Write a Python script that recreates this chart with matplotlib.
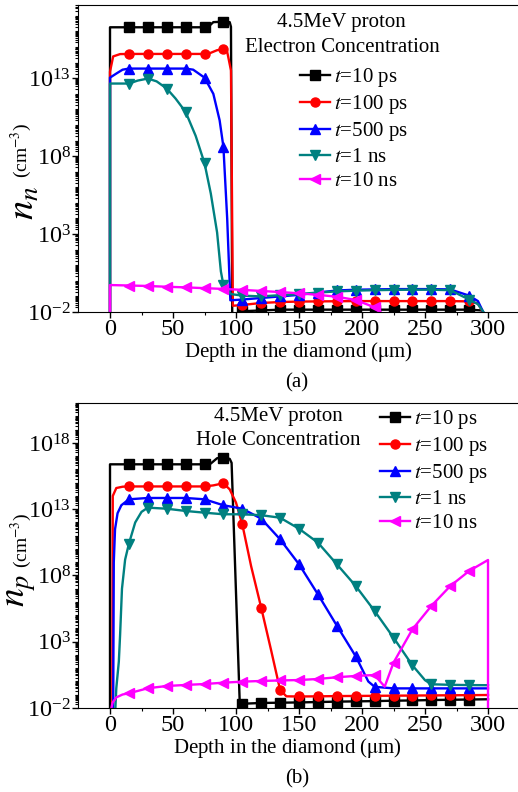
import matplotlib
matplotlib.use("Agg")
import matplotlib.pyplot as plt
from matplotlib.ticker import FixedLocator, LogLocator, NullFormatter, FuncFormatter
import numpy as np

plt.rcParams["font.family"] = ["Liberation Serif", "DejaVu Serif"]
plt.rcParams["mathtext.fontset"] = "stix"

W, H = 518, 792

labels = [r"$t$=10 ps", r"$t$=100 ps", r"$t$=500 ps", r"$t$=1 ns", r"$t$=10 ns"]
colors = ["#000000", "#ff0000", "#0000ff", "#008080", "#ff00ff"]
markers = ["s", "o", "^", "v", "<"]

# (a) electron concentration, log10(n) vs depth (um)
a_x = [
    [0, 0, 15, 30, 45, 60, 75, 78, 82, 90, 95, 96, 97, 105, 120, 135, 150, 165, 180, 195, 210, 225, 240, 255, 270, 285, 295, 298],
    [0, 0, 2.5, 8, 15, 30, 45, 60, 75, 79, 85, 90, 93, 96, 97.5, 105, 120, 135, 150, 165, 180, 195, 210, 225, 240, 255, 270, 285, 292, 298],
    [0, 0, 5, 10, 15, 30, 45, 60, 66, 75, 82, 87, 90, 93, 95.5, 105, 120, 135, 150, 165, 180, 195, 210, 225, 240, 255, 270, 285, 292, 298],
    [0, 0, 15, 22, 30, 37, 45, 52, 60, 68, 75, 80, 85, 88, 90, 93, 96, 105, 120, 135, 150, 165, 180, 195, 210, 225, 240, 255, 270, 285, 292, 299],
    [0, 0, 15, 30, 45, 60, 75, 90, 105, 120, 135, 150, 165, 180, 195, 210, 216],
]
a_y = [
    [-3, 16.27, 16.27, 16.27, 16.27, 16.27, 16.27, 16.3, 16.6, 16.63, 16.6, 16.3, -2.2, -1.95, -1.9, -1.85, -1.85, -1.85, -1.85, -1.85, -1.85, -1.85, -1.85, -1.85, -1.85, -1.85, -1.9, -2.5],
    [-3, 13.42, 14.4, 14.55, 14.56, 14.56, 14.56, 14.56, 14.56, 14.6, 14.8, 14.86, 14.7, 13.5, -1.6, -1.55, -1.42, -1.36, -1.33, -1.32, -1.31, -1.3, -1.3, -1.3, -1.3, -1.3, -1.3, -1.32, -1.45, -2.3],
    [-3, 13.04, 13.3, 13.55, 13.62, 13.62, 13.62, 13.62, 13.55, 13.04, 12.0, 10.3, 8.6, 4.0, -1.25, -1.2, -1.1, -1.0, -0.9, -0.75, -0.62, -0.57, -0.55, -0.53, -0.53, -0.53, -0.55, -0.95, -1.3, -2.3],
    [-3, 12.66, 12.66, 12.85, 12.98, 12.8, 12.34, 11.7, 10.84, 9.3, 7.55, 5.6, 3.1, 0.6, -0.27, -0.55, -0.85, -0.95, -1.0, -0.92, -0.85, -0.75, -0.68, -0.63, -0.6, -0.58, -0.57, -0.57, -0.6, -1.2, -1.5, -2.3],
    [-3, -0.27, -0.3, -0.33, -0.38, -0.42, -0.47, -0.52, -0.58, -0.65, -0.72, -0.8, -0.9, -1.02, -1.23, -1.7, -2.1],
]

# (b) hole concentration, log10(p) vs depth (um)
b_x = [
    [0, 0, 15, 30, 45, 60, 75, 80, 85, 90, 95, 96.5, 103, 105, 120, 135, 150, 165, 180, 195, 210, 225, 240, 255, 270, 285, 300],
    [0, 1.8, 2.2, 5, 10, 15, 30, 45, 60, 75, 82, 90, 95, 100, 105, 112, 120, 128, 135, 140, 150, 165, 180, 195, 210, 225, 240, 255, 270, 285, 300],
    [0, 2.5, 3, 4, 6, 9, 15, 30, 45, 60, 75, 90, 105, 120, 135, 150, 165, 180, 195, 205, 210, 225, 240, 255, 270, 285, 300],
    [0, 3.8, 5, 7, 8, 9.5, 12, 15, 20, 25, 30, 45, 60, 75, 90, 105, 120, 135, 150, 165, 180, 195, 210, 225, 240, 250, 255, 270, 285, 300],
    [0, 2, 5, 10, 15, 30, 45, 60, 75, 90, 105, 120, 135, 150, 165, 180, 195, 210, 218, 225, 240, 255, 270, 285, 300, 300],
]
b_y = [
    [-3, 16.39, 16.39, 16.39, 16.39, 16.39, 16.39, 16.45, 16.85, 16.89, 16.8, 16.5, -1.72, -1.68, -1.62, -1.6, -1.58, -1.55, -1.52, -1.5, -1.48, -1.45, -1.43, -1.4, -1.38, -1.36, -1.34],
    [-3, -3, 14.0, 14.6, 14.7, 14.72, 14.72, 14.72, 14.72, 14.72, 14.8, 14.96, 14.5, 13.5, 11.86, 8.7, 5.57, 2.3, -0.64, -1.12, -1.13, -1.12, -1.1, -1.09, -1.08, -1.07, -1.06, -1.05, -1.04, -1.03, -1.02],
    [-3, -3, 9.0, 11.5, 12.7, 13.3, 13.75, 13.85, 13.85, 13.85, 13.75, 13.3, 13.04, 12.29, 10.73, 8.85, 6.58, 4.22, 1.9, 0.0, -0.4, -0.52, -0.52, -0.52, -0.52, -0.52, -0.52],
    [-3, -3, -0.5, 1.5, 3.5, 7.0, 9.2, 10.4, 12.0, 12.8, 13.12, 13.04, 12.87, 12.74, 12.62, 12.62, 12.55, 12.36, 11.53, 10.48, 8.85, 7.21, 5.32, 3.31, 1.22, 0.1, -0.21, -0.25, -0.27, -0.28],
    [-2.5, -1.6, -1.2, -0.98, -0.89, -0.51, -0.34, -0.26, -0.19, -0.09, -0.01, 0.04, 0.08, 0.11, 0.19, 0.32, 0.42, 0.49, -0.39, 1.42, 3.94, 5.7, 7.2, 8.34, 9.17, -3],
]


def px(x, y):
    return x / W, 1 - y / H


def sci(v, pos):
    e = int(round(np.log10(v)))
    return r"$\mathdefault{10^{%d}}$" % e


def panel(ax, xs, ys, top, note, legend_xy, note_xy):
    fig = ax.figure
    for x, y, c, m, lab in zip(xs, ys, colors, markers, labels):
        x = np.array(x, dtype=float)
        every = [i for i, v in enumerate(x) if v % 15 == 0 and 0 < v < 300]
        ax.plot(x, 10.0 ** np.array(y), color=c, lw=1.7, marker=m, ms=6.5,
                markevery=every, label=lab)
    ax.set_yscale("log")
    ax.set_xlim(-25.4, 323.8)
    ax.set_ylim(1e-2, 10 ** top)
    ax.yaxis.set_major_locator(FixedLocator([10.0 ** e for e in range(-2, 22, 5)]))
    ax.yaxis.set_major_formatter(FuncFormatter(sci))
    ax.yaxis.set_minor_locator(LogLocator(base=10, subs=np.arange(1, 10), numticks=100))
    ax.yaxis.set_minor_formatter(NullFormatter())
    ax.set_xticks([0, 50, 100, 150, 200, 250, 300])
    ax.set_xticks([25, 75, 125, 175, 225, 275], minor=True)
    ax.tick_params(which="both", direction="out", labelsize=17.5, pad=1)
    ax.tick_params(which="major", length=4, width=1)
    ax.tick_params(which="minor", length=2.5, width=0.8)
    ax.spines["right"].set_visible(False)
    ax.legend(loc="upper left", bbox_to_anchor=px(*legend_xy),
              bbox_transform=fig.transFigure, frameon=False,
              fontsize=15, handlelength=1.45, handletextpad=0.2,
              labelspacing=0.2, borderpad=0, borderaxespad=0)
    for t, (nx, ny) in zip(note, note_xy):
        fig.text(*px(nx, ny), t, fontsize=15, ha="center", va="center")


fig = plt.figure(figsize=(W / 100, H / 100), dpi=100)
ax1 = fig.add_axes([78 / W, 1 - 312 / H, (W - 78) / W, 307 / H])
ax2 = fig.add_axes([78 / W, 1 - 708 / H, (W - 78) / W, 305.3 / H])

panel(ax1, a_x, a_y, 17.7, ["4.5MeV proton", "Electron Concentration"],
      (300, 66), [(341, 23), (342, 47)])
panel(ax2, b_x, b_y, 21.04, ["4.5MeV proton", "Hole Concentration"],
      (380, 408), [(278, 416), (278, 441)])

fig.text(*px(298, 352), r"Depth in the diamond ($\mathrm{\mu}$m)", fontsize=15, ha="center", va="center")
fig.text(*px(287, 748), r"Depth in the diamond ($\mathrm{\mu}$m)", fontsize=15, ha="center", va="center")
fig.text(*px(297, 383), "(a)", fontsize=15, ha="center", va="center")
fig.text(*px(297, 779), "(b)", fontsize=15, ha="center", va="center")

fig.text(*px(24, 203), r"$n_n$", fontsize=28, rotation=90, ha="center", va="center")
fig.text(*px(21, 150), r"(cm$^{-3}$)", fontsize=14, rotation=90, ha="center", va="center")
fig.text(*px(21, 590), r"$n_p$", fontsize=27, rotation=90, ha="center", va="center")
fig.text(*px(21, 540), r"(cm$^{-3}$)", fontsize=14, rotation=90, ha="center", va="center")

fig.savefig("out.png", dpi=100)
